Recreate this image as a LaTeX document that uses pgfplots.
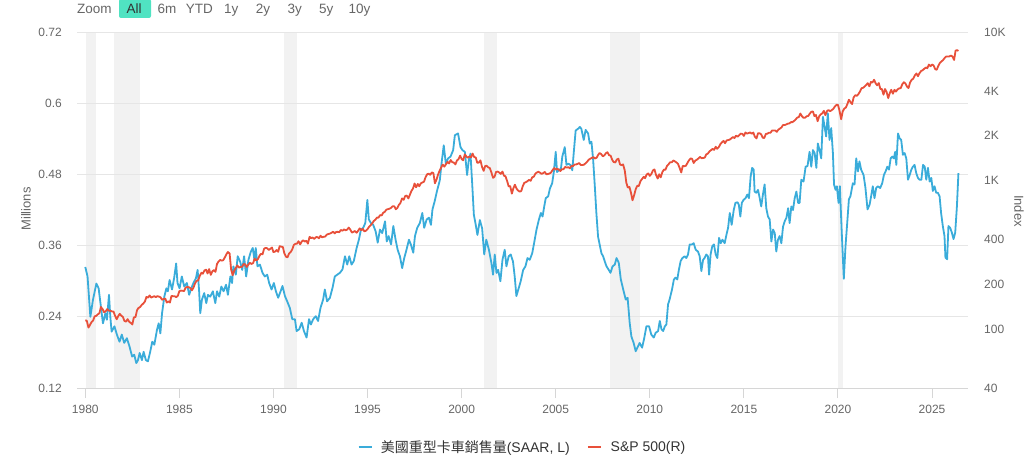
\documentclass[border=0pt]{standalone}
\usepackage{pgfplots}
\usepackage{pgfplotstable}
\pgfplotsset{compat=1.18}
\usepackage{fontspec}
\setmainfont{Liberation Sans}
\newfontfamily\cjk{Noto Sans CJK TC}
\definecolor{truckblue}{RGB}{58,172,218}
\definecolor{spred}{RGB}{232,80,58}
\definecolor{gridgrey}{RGB}{230,230,230}
\definecolor{bandgrey}{RGB}{242,242,242}
\definecolor{labelgrey}{RGB}{102,102,102}
\definecolor{axisgrey}{RGB}{214,214,214}
\definecolor{mint}{RGB}{80,227,194}
\definecolor{darktext}{RGB}{51,51,51}

\pgfplotstableread{
x y
1980.00 0.324
1980.12 0.308
1980.27 0.240
1980.41 0.269
1980.59 0.296
1980.71 0.288
1980.83 0.257
1980.94 0.229
1981.07 0.246
1981.15 0.235
1981.26 0.277
1981.33 0.240
1981.40 0.215
1981.55 0.224
1981.68 0.210
1981.82 0.198
1981.94 0.210
1982.07 0.196
1982.21 0.204
1982.35 0.190
1982.49 0.173
1982.60 0.176
1982.71 0.162
1982.80 0.167
1982.89 0.179
1983.01 0.167
1983.10 0.181
1983.22 0.167
1983.33 0.165
1983.45 0.181
1983.56 0.198
1983.67 0.193
1983.81 0.218
1983.90 0.229
1983.99 0.212
1984.08 0.246
1984.20 0.274
1984.31 0.288
1984.39 0.283
1984.48 0.302
1984.61 0.286
1984.72 0.305
1984.83 0.330
1984.90 0.297
1985.01 0.288
1985.13 0.308
1985.26 0.291
1985.40 0.297
1985.52 0.277
1985.63 0.288
1985.75 0.297
1985.88 0.305
1985.97 0.319
1986.05 0.283
1986.11 0.246
1986.20 0.269
1986.32 0.280
1986.43 0.263
1986.52 0.277
1986.64 0.274
1986.78 0.283
1986.91 0.263
1987.00 0.283
1987.12 0.274
1987.23 0.291
1987.35 0.283
1987.48 0.294
1987.58 0.277
1987.71 0.308
1987.80 0.297
1987.87 0.325
1988.00 0.311
1988.10 0.342
1988.23 0.333
1988.34 0.319
1988.44 0.342
1988.55 0.308
1988.67 0.336
1988.80 0.350
1988.90 0.356
1988.99 0.336
1989.06 0.356
1989.15 0.325
1989.28 0.328
1989.42 0.314
1989.54 0.308
1989.67 0.311
1989.77 0.297
1989.90 0.286
1990.02 0.297
1990.13 0.283
1990.25 0.272
1990.38 0.283
1990.48 0.292
1990.61 0.275
1990.73 0.266
1990.87 0.255
1991.00 0.236
1991.14 0.236
1991.23 0.216
1991.37 0.219
1991.50 0.230
1991.62 0.216
1991.76 0.205
1991.89 0.236
1991.99 0.227
1992.11 0.236
1992.25 0.241
1992.37 0.233
1992.50 0.255
1992.64 0.269
1992.73 0.286
1992.85 0.266
1993.00 0.272
1993.14 0.289
1993.26 0.308
1993.39 0.311
1993.53 0.314
1993.67 0.320
1993.80 0.342
1993.92 0.328
1994.03 0.342
1994.15 0.328
1994.27 0.334
1994.42 0.356
1994.54 0.370
1994.65 0.387
1994.77 0.390
1994.88 0.398
1994.99 0.437
1995.07 0.404
1995.18 0.398
1995.30 0.395
1995.43 0.384
1995.54 0.365
1995.66 0.387
1995.78 0.381
1995.93 0.401
1996.02 0.367
1996.12 0.376
1996.25 0.362
1996.37 0.393
1996.49 0.370
1996.60 0.353
1996.72 0.342
1996.84 0.322
1996.95 0.339
1997.07 0.353
1997.20 0.370
1997.30 0.362
1997.43 0.348
1997.52 0.376
1997.64 0.390
1997.78 0.398
1997.91 0.415
1998.01 0.390
1998.14 0.404
1998.26 0.407
1998.37 0.395
1998.45 0.421
1998.57 0.435
1998.69 0.452
1998.84 0.470
1998.93 0.498
1999.05 0.529
1999.16 0.498
1999.28 0.507
1999.41 0.510
1999.55 0.521
1999.64 0.546
1999.81 0.549
1999.94 0.526
2000.04 0.521
2000.17 0.518
2000.29 0.479
2000.38 0.504
2000.47 0.515
2000.56 0.465
2000.65 0.412
2000.75 0.395
2000.84 0.378
2000.97 0.403
2001.09 0.389
2001.20 0.345
2001.31 0.370
2001.45 0.353
2001.58 0.331
2001.67 0.311
2001.76 0.345
2001.85 0.314
2001.94 0.319
2002.06 0.300
2002.17 0.336
2002.29 0.353
2002.38 0.325
2002.50 0.342
2002.61 0.345
2002.73 0.333
2002.82 0.308
2002.91 0.275
2003.04 0.289
2003.14 0.300
2003.27 0.319
2003.39 0.325
2003.50 0.339
2003.62 0.336
2003.75 0.347
2003.85 0.364
2003.98 0.387
2004.10 0.403
2004.21 0.415
2004.30 0.409
2004.39 0.426
2004.47 0.440
2004.60 0.443
2004.69 0.456
2004.81 0.465
2004.90 0.484
2005.00 0.518
2005.07 0.484
2005.17 0.487
2005.28 0.490
2005.35 0.510
2005.48 0.526
2005.57 0.496
2005.67 0.498
2005.78 0.496
2005.88 0.487
2005.97 0.521
2006.06 0.554
2006.19 0.557
2006.28 0.560
2006.36 0.557
2006.49 0.538
2006.59 0.555
2006.72 0.549
2006.81 0.532
2006.90 0.535
2006.99 0.504
2007.08 0.459
2007.16 0.415
2007.25 0.375
2007.34 0.361
2007.43 0.347
2007.52 0.342
2007.61 0.333
2007.70 0.325
2007.82 0.319
2007.91 0.314
2008.02 0.325
2008.14 0.328
2008.23 0.339
2008.35 0.331
2008.46 0.303
2008.61 0.283
2008.72 0.269
2008.82 0.272
2008.93 0.230
2009.02 0.207
2009.14 0.196
2009.25 0.182
2009.34 0.188
2009.46 0.196
2009.59 0.188
2009.69 0.202
2009.82 0.224
2009.96 0.224
2010.08 0.210
2010.21 0.205
2010.31 0.213
2010.44 0.216
2010.53 0.233
2010.62 0.219
2010.71 0.216
2010.80 0.224
2010.88 0.227
2010.97 0.261
2011.05 0.269
2011.18 0.286
2011.28 0.303
2011.37 0.306
2011.46 0.303
2011.55 0.320
2011.64 0.334
2011.73 0.339
2011.85 0.342
2011.94 0.339
2012.03 0.345
2012.12 0.362
2012.24 0.362
2012.33 0.364
2012.44 0.353
2012.56 0.350
2012.65 0.342
2012.74 0.317
2012.83 0.336
2012.91 0.339
2013.00 0.345
2013.09 0.342
2013.15 0.311
2013.23 0.345
2013.32 0.359
2013.41 0.362
2013.50 0.345
2013.59 0.339
2013.68 0.373
2013.77 0.364
2013.86 0.370
2013.98 0.364
2014.07 0.378
2014.16 0.390
2014.25 0.415
2014.35 0.395
2014.46 0.420
2014.55 0.432
2014.66 0.433
2014.73 0.429
2014.81 0.409
2014.89 0.432
2014.98 0.437
2015.09 0.440
2015.18 0.446
2015.27 0.440
2015.36 0.477
2015.44 0.491
2015.52 0.488
2015.57 0.451
2015.66 0.449
2015.75 0.454
2015.84 0.440
2015.92 0.426
2016.01 0.446
2016.10 0.463
2016.19 0.423
2016.28 0.409
2016.37 0.404
2016.46 0.367
2016.55 0.387
2016.64 0.381
2016.72 0.350
2016.81 0.370
2016.90 0.376
2016.99 0.364
2017.08 0.392
2017.17 0.401
2017.26 0.407
2017.35 0.423
2017.43 0.398
2017.52 0.426
2017.61 0.420
2017.70 0.440
2017.79 0.451
2017.88 0.432
2017.96 0.432
2018.05 0.471
2018.17 0.468
2018.28 0.493
2018.38 0.494
2018.49 0.518
2018.58 0.493
2018.67 0.521
2018.76 0.516
2018.85 0.491
2018.93 0.532
2019.02 0.521
2019.11 0.507
2019.20 0.577
2019.29 0.560
2019.37 0.544
2019.46 0.583
2019.55 0.538
2019.64 0.558
2019.73 0.516
2019.79 0.463
2019.87 0.454
2019.94 0.460
2020.03 0.432
2020.10 0.460
2020.20 0.382
2020.31 0.304
2020.40 0.359
2020.49 0.398
2020.58 0.438
2020.66 0.443
2020.79 0.465
2020.88 0.463
2020.97 0.507
2021.06 0.485
2021.14 0.502
2021.23 0.488
2021.36 0.479
2021.46 0.457
2021.57 0.421
2021.68 0.429
2021.76 0.443
2021.85 0.460
2021.94 0.440
2022.03 0.457
2022.12 0.460
2022.24 0.457
2022.35 0.465
2022.44 0.479
2022.53 0.485
2022.62 0.493
2022.71 0.488
2022.80 0.507
2022.88 0.510
2022.97 0.507
2023.04 0.518
2023.10 0.496
2023.19 0.549
2023.27 0.541
2023.36 0.538
2023.45 0.513
2023.54 0.516
2023.63 0.507
2023.72 0.471
2023.81 0.479
2023.90 0.488
2023.98 0.493
2024.07 0.496
2024.16 0.482
2024.25 0.474
2024.34 0.471
2024.43 0.471
2024.52 0.496
2024.61 0.493
2024.69 0.471
2024.78 0.491
2024.87 0.468
2024.96 0.474
2025.04 0.452
2025.13 0.460
2025.22 0.449
2025.31 0.449
2025.40 0.443
2025.48 0.415
2025.57 0.393
2025.66 0.376
2025.71 0.340
2025.80 0.337
2025.87 0.393
2025.96 0.390
2026.05 0.382
2026.14 0.371
2026.23 0.382
2026.32 0.426
2026.40 0.482
}\trucks

\pgfplotstableread{
x y
1980.00 114.2
1980.08 113.7
1980.17 102.1
1980.25 106.3
1980.33 111.2
1980.42 114.2
1980.50 121.7
1980.58 122.4
1980.67 125.5
1980.75 127.5
1980.83 140.5
1980.92 135.8
1981.00 129.6
1981.08 131.3
1981.17 136.0
1981.25 132.8
1981.33 132.6
1981.42 131.2
1981.50 130.9
1981.58 122.8
1981.67 116.2
1981.75 121.9
1981.83 126.4
1981.92 122.6
1982.00 120.4
1982.08 113.1
1982.17 112.0
1982.25 116.4
1982.33 111.9
1982.42 109.6
1982.50 107.1
1982.58 119.5
1982.67 120.4
1982.75 133.7
1982.83 138.5
1982.92 140.6
1983.00 145.3
1983.08 148.1
1983.17 153.0
1983.25 164.4
1983.33 162.4
1983.42 168.1
1983.50 162.6
1983.58 164.4
1983.67 166.1
1983.75 163.6
1983.83 166.4
1983.92 164.9
1984.00 163.4
1984.08 157.1
1984.17 159.2
1984.25 160.1
1984.33 150.6
1984.42 153.2
1984.50 150.7
1984.58 166.7
1984.67 166.1
1984.75 166.1
1984.83 163.6
1984.92 167.2
1985.00 179.6
1985.08 181.2
1985.17 180.7
1985.25 179.8
1985.33 189.6
1985.42 191.9
1985.50 190.9
1985.58 188.6
1985.67 182.1
1985.75 189.8
1985.83 202.2
1985.92 211.3
1986.00 211.8
1986.08 226.9
1986.17 238.9
1986.25 235.5
1986.33 247.4
1986.42 250.8
1986.50 236.1
1986.58 252.9
1986.67 231.3
1986.75 244.0
1986.83 249.2
1986.92 242.2
1987.00 274.1
1987.08 284.2
1987.17 291.7
1987.25 288.4
1987.33 290.1
1987.42 304.0
1987.50 318.7
1987.58 329.8
1987.67 321.8
1987.75 251.8
1987.83 230.3
1987.92 247.1
1988.00 257.1
1988.08 267.8
1988.17 258.9
1988.25 261.3
1988.33 262.2
1988.42 273.5
1988.50 272.0
1988.58 261.5
1988.67 271.9
1988.75 279.0
1988.83 273.7
1988.92 277.7
1989.00 297.5
1989.08 288.9
1989.17 294.9
1989.25 309.6
1989.33 320.5
1989.42 318.0
1989.50 346.1
1989.58 351.5
1989.67 349.2
1989.75 340.4
1989.83 346.0
1989.92 353.4
1990.00 329.1
1990.08 331.9
1990.17 339.9
1990.25 330.8
1990.33 361.2
1990.42 358.0
1990.50 356.2
1990.58 322.6
1990.67 306.1
1990.75 304.0
1990.83 322.2
1990.92 330.2
1991.00 343.9
1991.08 367.1
1991.17 375.2
1991.25 375.3
1991.33 389.8
1991.42 371.2
1991.50 387.8
1991.58 395.4
1991.67 387.9
1991.75 392.5
1991.83 375.2
1991.92 417.1
1992.00 408.8
1992.08 412.7
1992.17 403.7
1992.25 415.0
1992.33 415.4
1992.42 408.1
1992.50 424.2
1992.58 414.0
1992.67 417.8
1992.75 418.7
1992.83 431.4
1992.92 435.7
1993.00 438.8
1993.08 443.4
1993.17 451.7
1993.25 440.2
1993.33 450.2
1993.42 450.5
1993.50 448.1
1993.58 463.6
1993.67 458.9
1993.75 467.8
1993.83 461.8
1993.92 466.5
1994.00 481.6
1994.08 467.1
1994.17 445.8
1994.25 450.9
1994.33 456.5
1994.42 444.3
1994.50 458.3
1994.58 475.5
1994.67 462.7
1994.75 472.4
1994.83 453.7
1994.92 459.3
1995.00 470.4
1995.08 487.4
1995.17 500.7
1995.25 514.7
1995.33 533.4
1995.42 544.8
1995.50 562.1
1995.58 561.9
1995.67 584.4
1995.75 581.5
1995.83 605.4
1995.92 615.9
1996.00 636.0
1996.08 640.4
1996.17 645.5
1996.25 654.2
1996.33 669.1
1996.42 670.6
1996.50 640.0
1996.58 652.0
1996.67 687.3
1996.75 705.3
1996.83 757.0
1996.92 740.7
1997.00 786.2
1997.08 790.8
1997.17 757.1
1997.25 801.3
1997.33 848.3
1997.42 885.1
1997.50 954.3
1997.58 899.5
1997.67 947.3
1997.75 914.6
1997.83 955.4
1997.92 970.4
1998.00 980.3
1998.08 1049.3
1998.17 1101.8
1998.25 1111.8
1998.33 1090.8
1998.42 1133.8
1998.50 1120.7
1998.58 957.3
1998.67 1017.0
1998.75 1098.7
1998.83 1163.6
1998.92 1229.2
1999.00 1279.6
1999.08 1238.3
1999.17 1286.4
1999.25 1335.2
1999.33 1301.8
1999.42 1372.7
1999.50 1328.7
1999.58 1320.4
1999.67 1282.7
1999.75 1362.9
1999.83 1389.0
1999.92 1469.3
2000.00 1394.5
2000.08 1366.4
2000.17 1498.6
2000.25 1452.4
2000.33 1420.6
2000.42 1454.6
2000.50 1430.8
2000.58 1517.7
2000.67 1436.5
2000.75 1429.4
2000.83 1315.2
2000.92 1320.3
2001.00 1366.0
2001.08 1239.9
2001.17 1160.3
2001.25 1249.5
2001.33 1255.8
2001.42 1224.4
2001.50 1211.2
2001.58 1133.6
2001.67 1040.9
2001.75 1059.8
2001.83 1139.5
2001.92 1148.1
2002.00 1130.2
2002.08 1106.7
2002.17 1147.4
2002.25 1076.9
2002.33 1067.1
2002.42 989.8
2002.50 911.6
2002.58 916.1
2002.67 815.3
2002.75 885.8
2002.83 936.3
2002.92 879.8
2003.00 855.7
2003.08 841.2
2003.17 848.2
2003.25 916.9
2003.33 963.6
2003.42 974.5
2003.50 990.3
2003.58 1008.0
2003.67 996.0
2003.75 1050.7
2003.83 1058.2
2003.92 1111.9
2004.00 1131.1
2004.08 1144.9
2004.17 1126.2
2004.25 1107.3
2004.33 1120.7
2004.42 1140.8
2004.50 1101.7
2004.58 1104.2
2004.67 1114.6
2004.75 1130.2
2004.83 1173.8
2004.92 1211.9
2005.00 1181.3
2005.08 1203.6
2005.17 1180.6
2005.25 1156.9
2005.33 1191.5
2005.42 1191.3
2005.50 1234.2
2005.58 1220.3
2005.67 1228.8
2005.75 1207.0
2005.83 1249.5
2005.92 1248.3
2006.00 1280.1
2006.08 1280.7
2006.17 1294.9
2006.25 1310.6
2006.33 1270.1
2006.42 1270.2
2006.50 1276.7
2006.58 1303.8
2006.67 1335.9
2006.75 1377.9
2006.83 1400.6
2006.92 1418.3
2007.00 1438.2
2007.08 1406.8
2007.17 1420.9
2007.25 1482.4
2007.33 1530.6
2007.42 1503.4
2007.50 1455.3
2007.58 1474.0
2007.67 1526.8
2007.75 1549.4
2007.83 1481.1
2007.92 1468.4
2008.00 1378.6
2008.08 1330.6
2008.17 1322.7
2008.25 1385.6
2008.33 1400.4
2008.42 1280.0
2008.50 1267.4
2008.58 1282.8
2008.67 1166.4
2008.75 968.8
2008.83 896.2
2008.92 903.3
2009.00 825.9
2009.08 735.1
2009.17 797.9
2009.25 872.8
2009.33 919.1
2009.42 919.3
2009.50 987.5
2009.58 1020.6
2009.67 1057.1
2009.75 1036.2
2009.83 1095.6
2009.92 1115.1
2010.00 1073.9
2010.08 1104.5
2010.17 1169.4
2010.25 1186.7
2010.33 1089.4
2010.42 1030.7
2010.50 1101.6
2010.58 1049.3
2010.67 1141.2
2010.75 1183.3
2010.83 1180.6
2010.92 1257.6
2011.00 1286.1
2011.08 1327.2
2011.17 1325.8
2011.25 1363.6
2011.33 1345.2
2011.42 1320.6
2011.50 1292.3
2011.58 1218.9
2011.67 1131.4
2011.75 1253.3
2011.83 1247.0
2011.92 1257.6
2012.00 1312.4
2012.08 1365.7
2012.17 1408.5
2012.25 1397.9
2012.33 1310.3
2012.42 1362.2
2012.50 1379.3
2012.58 1406.6
2012.67 1440.7
2012.75 1412.2
2012.83 1416.2
2012.92 1426.2
2013.00 1498.1
2013.08 1514.7
2013.17 1569.2
2013.25 1597.6
2013.33 1630.7
2013.42 1606.3
2013.50 1685.7
2013.58 1633.0
2013.67 1681.6
2013.75 1756.5
2013.83 1805.8
2013.92 1848.4
2014.00 1782.6
2014.08 1859.5
2014.17 1872.3
2014.25 1883.9
2014.33 1923.6
2014.42 1960.2
2014.50 1930.7
2014.58 2003.4
2014.67 1972.3
2014.75 2018.1
2014.83 2067.6
2014.92 2058.9
2015.00 1995.0
2015.08 2104.5
2015.17 2067.9
2015.25 2085.5
2015.33 2107.4
2015.42 2063.1
2015.50 2103.8
2015.58 1972.2
2015.67 1920.0
2015.75 2079.4
2015.83 2080.4
2015.92 2043.9
2016.00 1940.2
2016.08 1932.2
2016.17 2059.7
2016.25 2065.3
2016.33 2097.0
2016.42 2098.9
2016.50 2173.6
2016.58 2171.0
2016.67 2168.3
2016.75 2126.2
2016.83 2199.0
2016.92 2238.8
2017.00 2278.9
2017.08 2363.6
2017.17 2362.7
2017.25 2384.2
2017.33 2411.8
2017.42 2423.4
2017.50 2470.3
2017.58 2471.7
2017.67 2519.4
2017.75 2575.3
2017.83 2647.6
2017.92 2673.6
2018.00 2823.8
2018.08 2713.8
2018.17 2640.9
2018.25 2648.1
2018.33 2705.3
2018.42 2718.4
2018.50 2816.3
2018.58 2901.5
2018.67 2914.0
2018.75 2711.7
2018.83 2760.2
2018.92 2506.9
2019.00 2704.1
2019.08 2784.5
2019.17 2834.4
2019.25 2945.8
2019.33 2752.1
2019.42 2941.8
2019.50 2980.4
2019.58 2926.5
2019.67 2976.7
2019.75 3037.6
2019.83 3141.0
2019.92 3230.8
2020.00 3225.5
2020.08 2954.2
2020.17 2584.6
2020.25 2912.4
2020.33 3044.3
2020.42 3100.3
2020.50 3271.1
2020.58 3500.3
2020.67 3363.0
2020.75 3270.0
2020.83 3621.6
2020.92 3756.1
2021.00 3714.2
2021.08 3811.2
2021.17 3972.9
2021.25 4181.2
2021.33 4204.1
2021.42 4297.5
2021.50 4395.3
2021.58 4522.7
2021.67 4307.5
2021.75 4605.4
2021.83 4567.0
2021.92 4766.2
2022.00 4515.6
2022.08 4373.9
2022.17 4530.4
2022.25 4131.9
2022.33 4132.2
2022.42 3785.4
2022.50 4130.3
2022.58 3955.0
2022.67 3585.6
2022.75 3872.0
2022.83 4080.1
2022.92 3839.5
2023.00 4076.6
2023.08 3970.2
2023.17 4109.3
2023.25 4169.5
2023.33 4179.8
2023.42 4450.4
2023.50 4589.0
2023.58 4507.7
2023.67 4288.1
2023.75 4193.8
2023.83 4567.8
2023.92 4769.8
2024.00 4845.7
2024.08 5096.3
2024.17 5254.4
2024.25 5035.7
2024.33 5277.5
2024.42 5460.5
2024.50 5522.3
2024.58 5648.4
2024.67 5762.5
2024.75 5705.5
2024.83 6032.4
2024.92 5881.6
2025.00 6040.5
2025.08 5954.5
2025.17 5611.9
2025.25 5569.1
2025.33 5911.7
2025.42 6205.0
2025.50 6339.4
2025.58 6460.3
2025.67 6688.5
2025.75 6840.2
2025.83 6849.1
2025.92 6845.5
2026.00 6940.0
2026.08 6850.0
2026.17 6480.0
2026.25 7500.0
2026.33 7550.0
2026.40 7450.0
}\spx

\pgfplotsset{
  base/.style={
    at={(77bp,72bp)}, anchor=south west,
    width=891bp, height=356bp, scale only axis,
    xmin=1979.56, xmax=2026.91,
    /pgf/number format/assume math mode=true,
  },
}

\begin{document}
\begin{tikzpicture}
\useasboundingbox (0bp,0bp) rectangle (1028bp,460bp);

% recession bands
\begin{axis}[base, ymin=0, ymax=1, hide axis]
\addplot[fill=bandgrey, draw=none] coordinates {(1980.02,1) (1980.57,1)} \closedcycle;
\addplot[fill=bandgrey, draw=none] coordinates {(1981.51,1) (1982.90,1)} \closedcycle;
\addplot[fill=bandgrey, draw=none] coordinates {(1990.54,1) (1991.24,1)} \closedcycle;
\addplot[fill=bandgrey, draw=none] coordinates {(2001.17,1) (2001.88,1)} \closedcycle;
\addplot[fill=bandgrey, draw=none] coordinates {(2007.90,1) (2009.46,1)} \closedcycle;
\addplot[fill=bandgrey, draw=none] coordinates {(2020.01,1) (2020.26,1)} \closedcycle;
\end{axis}

% left axis: trucks
\begin{axis}[base,
  ymin=0.12, ymax=0.72,
  axis x line*=bottom, axis y line*=left,
  x axis line style={draw=axisgrey, line width=1bp},
  y axis line style={draw=none},
  ytick={0.12,0.24,0.36,0.48,0.6,0.72},
  yticklabels={0.12,0.24,0.36,0.48,0.6,0.72},
  xtick={1980,1985,1990,1995,2000,2005,2010,2015,2020,2025},
  xticklabels={1980,1985,1990,1995,2000,2005,2010,2015,2020,2025},
  minor tick num=0,
  tick align=inside,
  major tick length=10bp,
  ytick style={draw=none},
  xtick style={draw=axisgrey, line width=1bp, yshift=-10bp},
  ymajorgrids, grid style={draw=gridgrey, line width=1bp},
  yticklabel style={anchor=east, inner sep=0pt, xshift=-15bp, font=\fontsize{12bp}{14bp}\selectfont, text=labelgrey},
  xticklabel style={anchor=north, inner sep=0pt, yshift=-17bp, font=\fontsize{12bp}{14bp}\selectfont, text=labelgrey},
]
\addplot[truckblue, line width=1.8bp, line join=round] table[x=x, y=y] {\trucks};
\end{axis}

% right axis: S&P 500
\begin{axis}[base,
  ymode=log, ymin=40, ymax=10000,
  axis y line*=right, axis x line=none,
  y axis line style={draw=none},
  ytick={40,100,200,400,1000,2000,4000,10000},
  yticklabels={40,100,200,400,1K,2K,4K,10K},
  minor ytick={},
  tick align=inside,
  ytick style={draw=none},
  yticklabel style={anchor=west, inner sep=0pt, xshift=16bp, font=\fontsize{12bp}{14bp}\selectfont, text=labelgrey},
  legend style={at={(0.5,0)}, anchor=center, yshift=-59bp, draw=none, fill=none,
    font=\fontsize{14bp}{16bp}\selectfont, text=darktext,
    /tikz/every even column/.append style={column sep=15bp}},
  legend columns=2,
  legend image code/.code={\draw[#1, line width=2bp] (0bp,0bp) -- (13bp,0bp); \path (20bp,0bp);},
]
\addlegendimage{truckblue}
\addlegendentry{{\cjk 美國重型卡車銷售量}(SAAR, L)}
\addplot[spred, line width=1.8bp, line join=round] table[x=x, y=y] {\spx};
\addlegendentry{S\&P 500(R)}
\end{axis}

% axis titles
\node[rotate=90, text=labelgrey, font=\fontsize{13bp}{15bp}\selectfont] at (26bp,251bp) {Millions};
\node[rotate=-90, text=labelgrey, font=\fontsize{13bp}{15bp}\selectfont] at (1019bp,249bp) {Index};

% range selector
\fill[mint, rounded corners=2bp] (119bp,442bp) rectangle (151bp,461bp);
\begin{scope}[every node/.style={anchor=base west, inner sep=0pt, font=\fontsize{13.5bp}{15bp}\selectfont, text=labelgrey}]
\node at (77bp,446.7bp) {Zoom};
\node[text=darktext] at (126.5bp,446.7bp) {All};
\node at (157.3bp,446.7bp) {6m};
\node at (185.7bp,446.7bp) {YTD};
\node at (224bp,446.7bp) {1y};
\node at (255.7bp,446.7bp) {2y};
\node at (287.3bp,446.7bp) {3y};
\node at (319bp,446.7bp) {5y};
\node at (348.3bp,446.7bp) {10y};
\end{scope}
\end{tikzpicture}
\end{document}
